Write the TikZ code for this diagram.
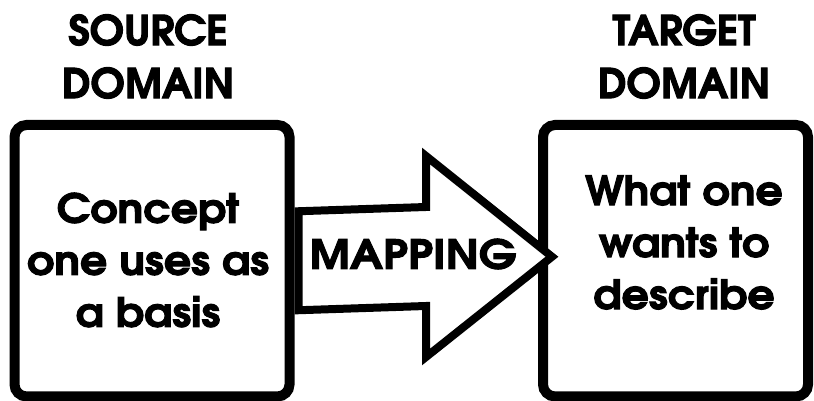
\documentclass[tikz,border=0pt]{standalone}
\usepackage{fontspec}
\setmainfont{TeX Gyre Adventor}[BoldFeatures={FakeBold=2.5}]
\newfontfamily\bodyfont{TeX Gyre Adventor}[BoldFeatures={FakeBold=2.5,FakeStretch=1.07}]
\newfontfamily\mapfont{TeX Gyre Adventor}[BoldFeatures={FakeBold=2.5,FakeStretch=1.12}]
\usetikzlibrary{calc}
\begin{document}
\begin{tikzpicture}[x=1pt,y=1pt,
  domainbox/.style={draw, line width=10pt, rounded corners=12pt, minimum width=#1, minimum height=271.5pt, inner sep=0pt},
  lbl/.style={font=\bodyfont\bfseries\fontsize{40}{52}\selectfont, align=center, inner sep=0pt},
  maplbl/.style={font=\mapfont\bfseries\fontsize{40}{52}\selectfont, inner sep=0pt},
  head/.style={font=\bfseries\fontsize{41}{53}\selectfont, align=center, inner sep=0pt},
  blockarrow/.style={draw, line width=8pt, miter limit=10, fill=white}]
\useasboundingbox (0,0) rectangle (814,401);
\node[domainbox=275pt] (src) at (152,140.25) {};
\node[domainbox=265pt] (dst) at (675.5,140.25) {};
\draw[blockarrow] ($(src.east)+(4,49.5)$) coordinate (a1) -- (426,194) -- (426,245) -- ($(dst.west)+(14,4)$) coordinate (tip) -- (426,44) -- (426,95) -- ($(src.east)+(4,-49.5)$) -- cycle;
\node[maplbl] (map) at (413,147) {MAPPING};
\node[lbl] (srctext) at (148,141) {Concept\\one uses as\\a basis};
\node[lbl] (dsttext) at (684,158.5) {What one\\wants to\\describe};
\node[head] (srchead) at (148,344.5) {SOURCE\\DOMAIN};
\node[head] (dsthead) at (684,344.5) {TARGET\\DOMAIN};
\end{tikzpicture}
\end{document}
